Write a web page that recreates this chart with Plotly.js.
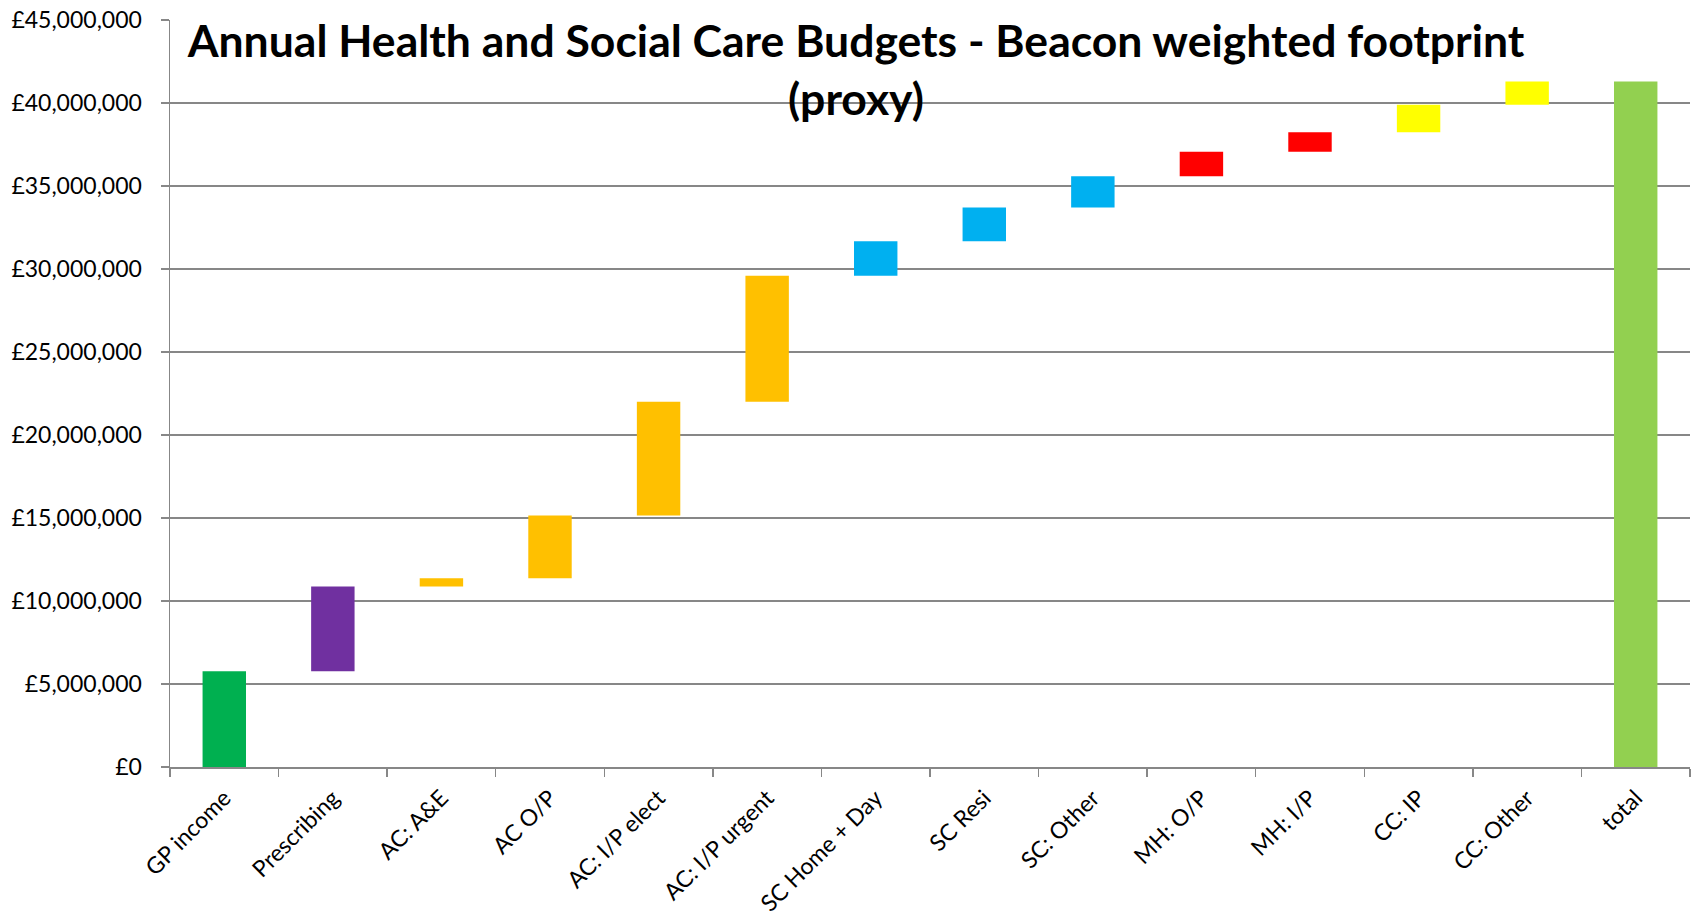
<!DOCTYPE html>
<html>
<head>
<meta charset="utf-8">
<script src="https://cdn.plot.ly/plotly-3.0.1.min.js"></script>
<style>html,body{margin:0;padding:0;background:#fff;}#chart{width:1696px;height:918px;}</style>
</head>
<body>
<div id="chart"></div>
<script>
// Budget categories and their annual amounts (£)
const categories = ["GP income", "Prescribing", "AC: A&E", "AC O/P", "AC: I/P elect", "AC: I/P urgent",
  "SC Home + Day", "SC Resi", "SC: Other", "MH: O/P", "MH: I/P", "CC: IP", "CC: Other", "total"];
const amounts = [5770000, 5110000, 490000, 3780000, 6850000, 7600000,
  2070000, 2030000, 1880000, 1490000, 1170000, 1660000, 1400000, 41300000];
const isTotal = [false, false, false, false, false, false, false, false, false, false, false, false, false, true];
const barColors = ["#00B050", "#7030A0", "#FFC000", "#FFC000", "#FFC000", "#FFC000",
  "#00B0F0", "#00B0F0", "#00B0F0", "#FF0000", "#FF0000", "#FFFF00", "#FFFF00", "#92D050"];
const yTicks = [0, 5000000, 10000000, 15000000, 20000000, 25000000, 30000000, 35000000, 40000000, 45000000];
const yTickLabels = yTicks.map(v => "\u00A3" + v.toLocaleString("en-GB"));

// floating bases: running cumulative total, totals start at 0
const bases = [];
let running = 0;
for (let i = 0; i < amounts.length; i++) {
  if (isTotal[i]) { bases.push(0); }
  else { bases.push(running); running += amounts[i]; }
}

const grey = "#878787";
const trace = {
  type: "bar",
  x: categories,
  y: amounts,
  base: bases,
  marker: {color: barColors, line: {width: 0}},
  hoverinfo: "x+y"
};

const layout = {
  width: 1696, height: 918,
  paper_bgcolor: "#ffffff", plot_bgcolor: "#ffffff",
  margin: {l: 170, r: 6, t: 20, b: 151},
  bargap: 0.6,
  showlegend: false,
  font: {family: "Lato, 'Open Sans', sans-serif", color: "#000000"},
  title: {
    text: "<b>Annual Health and Social Care Budgets - Beacon weighted footprint<br>(proxy)</b>",
    font: {family: "Lato, sans-serif", size: 44.5, color: "#000000"},
    xref: "container", x: 856 / 1696, xanchor: "center",
    yref: "container", y: 1 - 57 / 918, yanchor: "top"
  },
  xaxis: {
    type: "category",
    tickangle: -45,
    tickfont: {size: 23, family: "Lato, sans-serif", color: "#000000"},
    ticklabelstandoff: 7,
    showline: true, linecolor: grey, linewidth: 1.5,
    ticks: "outside", tickson: "boundaries", ticklen: 8, tickcolor: grey, tickwidth: 1.5,
    showgrid: false, zeroline: false,
    range: [-0.5, categories.length - 0.5]
  },
  yaxis: {
    range: [0, 45000000],
    tickmode: "array",
    tickvals: yTicks,
    ticktext: yTickLabels,
    tickfont: {size: 23, family: "Lato, sans-serif", color: "#000000"},
    showline: true, linecolor: grey, linewidth: 1.5,
    ticks: "outside", ticklen: 8, tickcolor: grey, tickwidth: 1.5,
    ticklabelstandoff: 14,
    showgrid: true, gridcolor: grey, gridwidth: 1.5,
    zeroline: false
  }
};

Plotly.newPlot("chart", [trace], layout, {staticPlot: true, displayModeBar: false});
</script>
</body>
</html>
